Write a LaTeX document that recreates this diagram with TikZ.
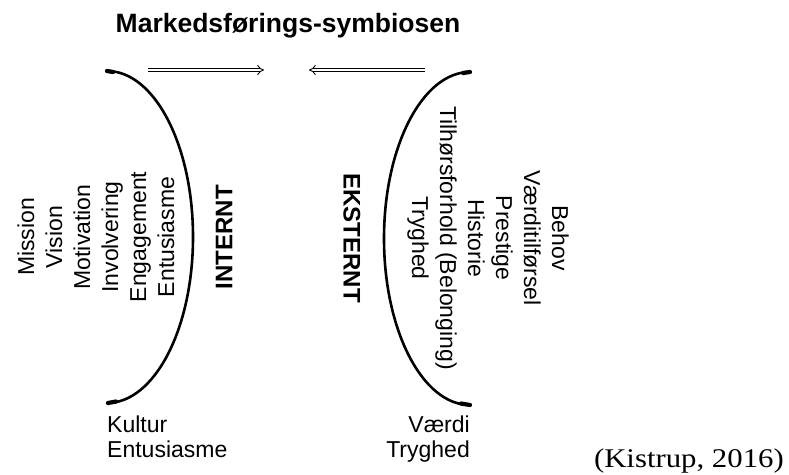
\documentclass[tikz,border=0pt]{standalone}
\usepackage{fontspec}
\setmainfont{Liberation Sans}
\newfontfamily\citefont[FakeStretch=1.14]{Liberation Serif}
\usetikzlibrary{arrows.meta}
\begin{document}
\begin{tikzpicture}[x=1pt,y=-1pt,
  arcline/.style={line width=2.6pt, line cap=round},
  endblob/.style={line width=4.2pt, line cap=round},
  dblarrow/.style={double, double distance=2.6pt, line width=0.9pt, -{Implies[scale=1.3]}},
  body/.style={font=\fontsize{23}{28}\selectfont, align=center, inner sep=0pt},
  bodyb/.style={font=\fontsize{23}{25}\selectfont, inner sep=0pt},
  head/.style={font=\fontsize{24}{28}\selectfont\bfseries, inner sep=0pt},
]
\useasboundingbox (0,0) rectangle (789,474);
\node[font=\fontsize{26.5}{30}\selectfont\bfseries, anchor=base, inner sep=0pt] (title) at (288,32) {Markedsførings-symbiosen};

% arrows
\coordinate (la) at (148,70);
\coordinate (lb) at (264,70);
\coordinate (ra) at (425,70);
\coordinate (rb) at (309,70);
\draw[dblarrow] (la) -- (lb);
\draw[dblarrow] (ra) -- (rb);

% arcs
\coordinate (lt) at (107,71);
\coordinate (rt) at (470,72);
\draw[arcline] (lt) arc[start angle=-90, end angle=90, x radius=86, y radius=166];
\draw[arcline] (rt) arc[start angle=-90, end angle=-270, x radius=86, y radius=166.5];
\draw[endblob] (107,71) -- (113,72);
\draw[endblob] (108,403) -- (116,401.5);
\draw[endblob] (470,72) -- (463,73);
\draw[endblob] (470,405) -- (461,403.5);

% rotated texts
\node[body, rotate=90] (int) at (96,237) {Mission\\Vision\\Motivation\\Involvering\\Engagement\\Entusiasme};
\node[head, rotate=90] (intl) at (224,237) {INTERNT};
\node[head, rotate=-90] (extl) at (352,238) {EKSTERNT};
\node[body, rotate=-90] (ext) at (488,238) {Behov\\Værditilførsel\\Prestige\\Historie\\Tilhørsforhold (Belonging)\\Tryghed};

% bottom labels
\node[bodyb, align=left, anchor=north west] (kul) at (107,415.5) {Kultur\\Entusiasme};
\node[font=\fontsize{23}{25.5}\selectfont, inner sep=0pt, align=right, anchor=north east] (vae) at (470,415.5) {Værdi\\Tryghed};

\node[font=\fontsize{27}{30}\selectfont\citefont, anchor=base east, inner sep=0pt] (cite) at (784,467) {(Kistrup, 2016)};
\end{tikzpicture}
\end{document}
